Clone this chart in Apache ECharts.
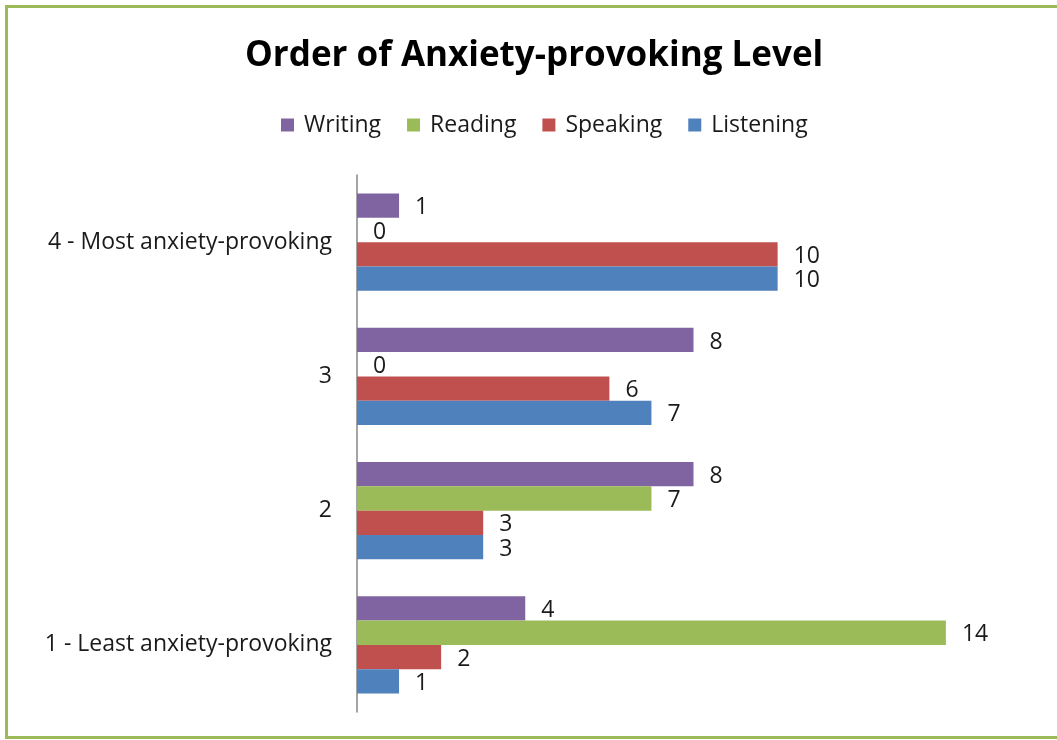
<!DOCTYPE html>
<html>
<head>
<meta charset="utf-8">
<script src="https://cdn.jsdelivr.net/npm/echarts@6/dist/echarts.min.js"></script>
<style>
html,body{margin:0;padding:0;background:#fff;}
#chart{width:1057px;height:740px;}
</style>
</head>
<body>
<div id="chart"></div>
<script>
var categories = ['1 - Least anxiety-provoking', '2', '3', '4 - Most anxiety-provoking'];
var listening = [1, 3, 7, 10];
var speaking = [2, 3, 6, 10];
var reading = [14, 7, 0, 0];
var writing = [4, 8, 8, 1];
var legendOrder = ['Writing', 'Reading', 'Speaking', 'Listening'];

var FONT = 'Open Sans';
var chart = echarts.init(document.getElementById('chart'), null, {renderer: 'canvas'});

function mk(name, data, color) {
  return {
    name: name,
    type: 'bar',
    data: data,
    barGap: '0%',
    barCategoryGap: '27.7%',
    itemStyle: {color: color},
    label: {
      show: true,
      position: 'right',
      distance: 16,
      fontFamily: FONT,
      fontSize: 23,
      color: '#1a1a1a',
      offset: [0, 2]
    },
    emphasis: {disabled: true},
    animation: false
  };
}

chart.setOption({
  animation: false,
  backgroundColor: '#fff',
  title: {
    text: 'Order of Anxiety-provoking Level',
    left: 240,
    top: 34,
    textStyle: {fontFamily: FONT, fontWeight: 'bold', fontSize: 35, color: '#000'}
  },
  legend: {
    data: legendOrder,
    top: 107,
    left: 276,
    itemWidth: 13,
    itemHeight: 13,
    itemGap: 26,
    icon: 'rect',
    textStyle: {fontFamily: FONT, fontSize: 23, color: '#1a1a1a', lineHeight: 26, padding: [0, 0, 0, 5]}
  },
  grid: {left: 357, right: 27, top: 175, bottom: 28, containLabel: false},
  xAxis: {
    type: 'value',
    min: 0,
    max: 16,
    show: false,
    splitLine: {show: false}
  },
  yAxis: {
    type: 'category',
    data: categories,
    axisLine: {show: true, lineStyle: {color: '#868686', width: 1.5}},
    axisTick: {show: false},
    axisLabel: {fontFamily: FONT, fontSize: 23, color: '#1a1a1a', margin: 25}
  },
  graphic: [{
    type: 'rect',
    shape: {x: 6.5, y: 6.5, width: 1070, height: 731},
    style: {fill: 'none', stroke: '#9BBB59', lineWidth: 3},
    silent: true
  }],
  series: [
    mk('Writing', writing, '#8064A2'),
    mk('Reading', reading, '#9BBB59'),
    mk('Speaking', speaking, '#C0504D'),
    mk('Listening', listening, '#4F81BD')
  ]
});
</script>
</body>
</html>
